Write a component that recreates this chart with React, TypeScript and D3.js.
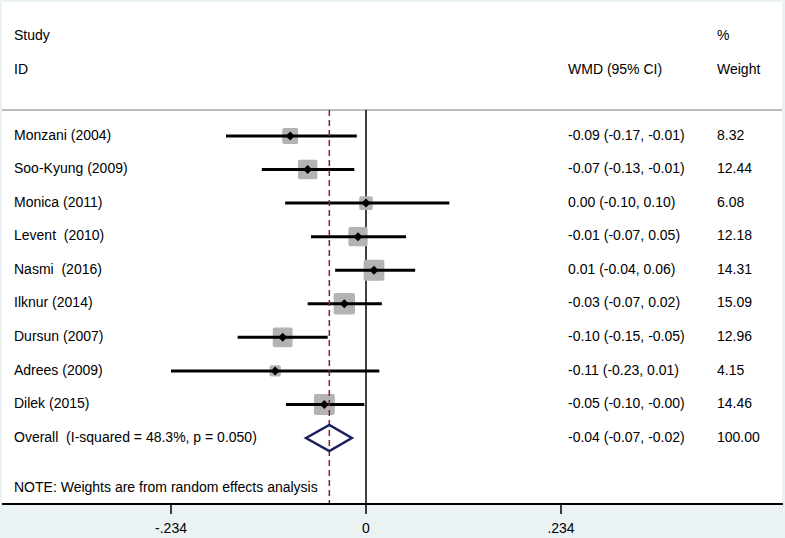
import React from 'react';
import * as d3 from 'd3';

const studies = ['Monzani (2004)', 'Soo-Kyung (2009)', 'Monica (2011)', 'Levent  (2010)', 'Nasmi  (2016)', 'Ilknur (2014)', 'Dursun (2007)', 'Adrees (2009)', 'Dilek (2015)'];
const estimates = [-0.091, -0.07, 0.0, -0.0096, 0.0096, -0.026, -0.1, -0.109, -0.05];
const lowers = [-0.168, -0.125, -0.097, -0.066, -0.037, -0.07, -0.154, -0.234, -0.096];
const uppers = [-0.011, -0.014, 0.10, 0.048, 0.059, 0.019, -0.046, 0.016, -0.002];
const ciLabels = ['-0.09 (-0.17, -0.01)', '-0.07 (-0.13, -0.01)', '0.00 (-0.10, 0.10)', '-0.01 (-0.07, 0.05)', '0.01 (-0.04, 0.06)', '-0.03 (-0.07, 0.02)', '-0.10 (-0.15, -0.05)', '-0.11 (-0.23, 0.01)', '-0.05 (-0.10, -0.00)'];
const weights = [8.32, 12.44, 6.08, 12.18, 14.31, 15.09, 12.96, 4.15, 14.46];

const overallLabel = 'Overall  (I-squared = 48.3%, p = 0.050)';
const overallEst = -0.044;
const overallLo = -0.072;
const overallHi = -0.017;
const overallCi = '-0.04 (-0.07, -0.02)';
const overallWeight = '100.00';

const tickValues = [-0.234, 0, 0.234];
const tickLabels = ['-.234', '0', '.234'];

const W = 785;
const H = 538;

const App = () => {
    const font = { fontFamily: 'Liberation Sans, Arial, sans-serif', fontSize: 14, whiteSpace: 'pre' as const };
    const xScale = d3.scaleLinear().domain([-0.234, 0.234]).range([171, 561]);
    const rows = [...studies, 'overall'];
    const yScale = d3.scalePoint().domain(rows).range([136, 438]);
    const boxSize = d3.scaleSqrt().domain([0, 1]).range([0, 5.5]);
    const axisY = 504;
    const top = 110;
    const oy = yScale('overall');
    const ox = xScale(overallEst);

    return (
        <svg width={W} height={H} style={{ display: 'block', position: 'absolute', left: 0, top: 0 }}>
            <rect x={0} y={0} width={W} height={H} fill="#eaf2f4" />
            <rect x={2} y={2} width={780} height={axisY - 2} fill="#ffffff" />

            {/* headers */}
            <g style={font} fill="#000">
                <text x={14} y={36} dominantBaseline="middle">Study</text>
                <text x={14} y={70} dominantBaseline="middle">ID</text>
                <text x={568} y={70} dominantBaseline="middle">WMD (95% CI)</text>
                <text x={717} y={36} dominantBaseline="middle">%</text>
                <text x={717} y={70} dominantBaseline="middle">Weight</text>
            </g>
            <line x1={2} x2={782} y1={top} y2={top} stroke="#a8a8a8" strokeWidth={1.5} />

            {/* zero line */}
            <line x1={xScale(0)} x2={xScale(0)} y1={top} y2={axisY} stroke="#000" strokeWidth={1.5} />

            {/* studies */}
            {studies.map((s, i) => {
                const y = yScale(s);
                const x = xScale(estimates[i]);
                const b = boxSize(weights[i]);
                return (
                    <g key={s}>
                        <rect x={x - b / 2} y={y - b / 2} width={b} height={b} rx={2} fill="#b3b3b3" />
                        <line x1={xScale(lowers[i])} x2={xScale(uppers[i])} y1={y} y2={y} stroke="#000" strokeWidth={3} />
                        <path d={`M${x - 4.5},${y} L${x},${y - 4.5} L${x + 4.5},${y} L${x},${y + 4.5} Z`} fill="#000" />
                        <text x={14} y={y} dominantBaseline="middle" style={font}>{s}</text>
                        <text x={568} y={y} dominantBaseline="middle" style={font}>{ciLabels[i]}</text>
                        <text x={717} y={y} dominantBaseline="middle" style={font}>{weights[i].toFixed(2)}</text>
                    </g>
                );
            })}

            {/* overall dashed line */}
            <line x1={ox} x2={ox} y1={top} y2={axisY} stroke="#8e1b27" strokeWidth={1.5} strokeDasharray="6,4" />

            {/* overall diamond */}
            <path
                d={`M${xScale(overallLo)},${oy} L${ox},${oy - 13} L${xScale(overallHi)},${oy} L${ox},${oy + 13} Z`}
                fill="none"
                stroke="#1b1f5e"
                strokeWidth={2.5}
            />
            <text x={14} y={oy} dominantBaseline="middle" style={font}>{overallLabel}</text>
            <text x={568} y={oy} dominantBaseline="middle" style={font}>{overallCi}</text>
            <text x={717} y={oy} dominantBaseline="middle" style={font}>{overallWeight}</text>

            <text x={14} y={488} dominantBaseline="middle" style={font}>NOTE: Weights are from random effects analysis</text>

            {/* axis */}
            <line x1={2} x2={783} y1={axisY} y2={axisY} stroke="#000" strokeWidth={2} />
            {tickValues.map((t, i) => (
                <g key={t} transform={`translate(${xScale(t)}, ${axisY})`}>
                    <line y2={10} stroke="#000" strokeWidth={1.5} />
                    <text y={25} textAnchor="middle" dominantBaseline="middle" style={font}>{tickLabels[i]}</text>
                </g>
            ))}
        </svg>
    );
};

export default App;
